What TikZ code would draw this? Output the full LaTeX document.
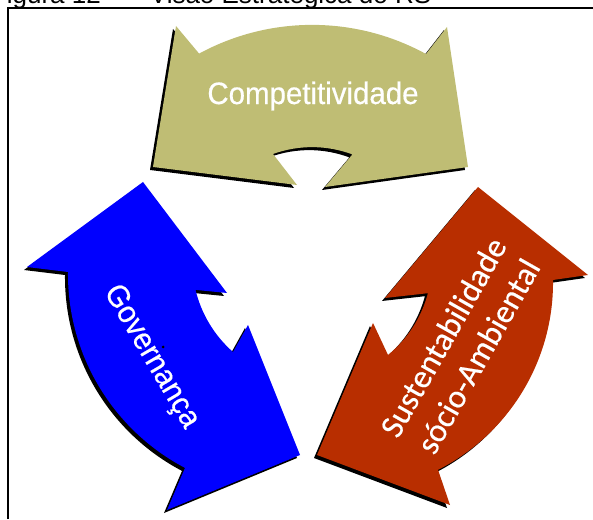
\documentclass[tikz,border=0pt]{standalone}
\usepackage{fontspec}
\setmainfont{Liberation Sans}
\newfontfamily\narrowfont[FakeStretch=0.95,FakeBold=0.5]{Liberation Sans}
\newfontfamily\calfont[FakeBold=0.4]{Carlito}
\usetikzlibrary{calc}

\definecolor{khaki}{RGB}{191,189,116}
\definecolor{govblue}{RGB}{0,0,255}
\definecolor{rust}{RGB}{184,46,0}

% outlines of the three double-headed curved arrows
\newcommand\khakishape{(426,465) arc[start angle=61.3, end angle=118.5, radius=237]
  -- (176,493) -- (153,352) -- (297,334) -- (273,365)
  arc[start angle=109.9, end angle=69.5, radius=115]
  -- (325,332) -- (468,352) -- (447,492) -- cycle}
\newcommand\blueshape{(143,337) -- (27,252) -- (68,247)
  arc[start angle=179.4, end angle=242.3, radius=218.7]
  -- (167,9) -- (300,64) -- (248,194) -- (233,167)
  arc[start angle=228.7, end angle=193.5, radius=120]
  -- (227,226) -- cycle}
\newcommand\redshape{(478,332) -- (588,244) -- (553,239)
  arc[start angle=0.7, end angle=-63.1, radius=210]
  -- (450,14) -- (317,64) -- (373,196) -- (388,164)
  arc[start angle=-50.7, end angle=-15, radius=120]
  -- (385,221) -- cycle}

\tikzset{
  x=1pt, y=1pt,
  dropshadow/.style={fill=black, shift={(-3,-3)}},
  label/.style={text=white, inner sep=0pt},
  frameline/.style={line width=1.2pt, black},
  caption/.style={inner sep=0pt, font=\fontsize{26}{30}\selectfont}
}

\begin{document}
\begin{tikzpicture}
\useasboundingbox (0,0) rectangle (593,519);
\clip (0,0) rectangle (593,519);

% caption above the frame (only its lower part shows)
\node[caption, anchor=base east] (capA) at (101,515) {Figura 12};
\node[caption, anchor=base west] (capB) at (128,515) {– Visão Estratégica do RS};

% frame
\draw[frameline] (8,0) -- (8,511) -- (600,511);

% shadows
\fill[dropshadow] \khakishape;
\fill[dropshadow] \blueshape;
\fill[dropshadow] \redshape;

% arrows
\fill[khaki] \khakishape;
\fill[govblue] \blueshape;
\fill[rust] \redshape;

% labels
\node[label, font=\narrowfont\fontsize{31}{36}\selectfont] (comp) at (313,423) {Competitividade};
\node[label, font=\narrowfont\fontsize{31}{36}\selectfont, rotate=-59.5] (gov) at (151,162) {Governança};
\node[label, font=\calfont\fontsize{33}{38}\selectfont, rotate=60.5] (sust1) at (443,182) {Sustentabilidade};
\node[label, font=\calfont\fontsize{33}{38}\selectfont, rotate=60.5] (sust2) at (478,163) {sócio-Ambiental};

% small speck over the blue arrow
\fill[black] (163,172) circle[radius=1.5];
\end{tikzpicture}
\end{document}
